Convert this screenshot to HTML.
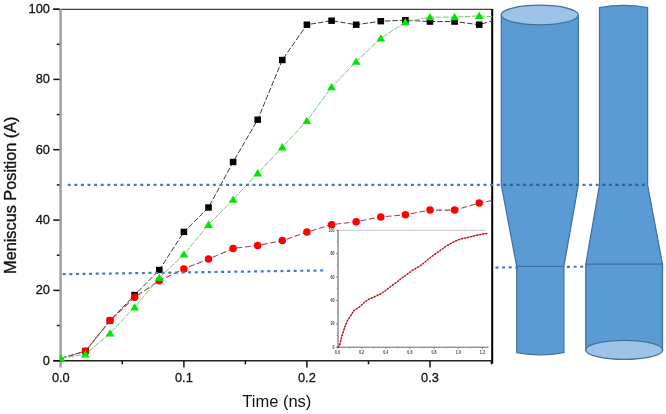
<!DOCTYPE html>
<html><head><meta charset="utf-8"><style>
html,body{margin:0;padding:0;background:#fff;}
body{width:666px;height:414px;overflow:hidden;}
svg{display:block;filter:blur(0.45px);}
</style></head><body>
<svg width="666" height="414" viewBox="0 0 666 414">
<rect width="666" height="414" fill="#fff"/>
<g stroke="#41719c" stroke-width="1.25" fill="#5b9bd5">
<path d="M501.3,15 L501.3,185 L516.7,266.3 L516.7,352.6 Q540.3,357 563.9,352.6 L563.9,266.3 L578.3,185 L578.3,15 Z"/>
<line x1="516.7" y1="266.3" x2="563.9" y2="266.3"/>
<ellipse cx="539.8" cy="15" rx="38.5" ry="9.8" fill="#9dc3e6"/>
<path d="M599.5,7.5 Q623.5,3.3 647.6,7.5 L647.6,185 L662.5,264.2 L662.5,349.9 L585.8,349.9 L585.8,264.2 L599.5,185 Z"/>
<line x1="585.8" y1="264.2" x2="662.5" y2="264.2"/>
<ellipse cx="624.2" cy="349.9" rx="38.4" ry="9.5" fill="#9dc3e6"/>
</g>
<g>
<line x1="53.3" y1="9.3" x2="492.2" y2="9.3" stroke="#444" stroke-width="1.3"/>
<line x1="492.2" y1="9" x2="492.2" y2="363.5" stroke="#000" stroke-width="2"/>
<line x1="60.6" y1="9.3" x2="60.6" y2="367.5" stroke="#a0a0a0" stroke-width="2.5"/>
<line x1="53.3" y1="360.8" x2="492.2" y2="360.8" stroke="#222" stroke-width="1.6"/>
<line x1="53.3" y1="360.7" x2="59.5" y2="360.7" stroke="#111" stroke-width="1.5"/>
<line x1="56.8" y1="325.5" x2="59.5" y2="325.5" stroke="#111" stroke-width="1.5"/>
<line x1="53.3" y1="290.4" x2="59.5" y2="290.4" stroke="#111" stroke-width="1.5"/>
<line x1="56.8" y1="255.2" x2="59.5" y2="255.2" stroke="#111" stroke-width="1.5"/>
<line x1="53.3" y1="220.1" x2="59.5" y2="220.1" stroke="#111" stroke-width="1.5"/>
<line x1="56.8" y1="184.9" x2="59.5" y2="184.9" stroke="#111" stroke-width="1.5"/>
<line x1="53.3" y1="149.7" x2="59.5" y2="149.7" stroke="#111" stroke-width="1.5"/>
<line x1="56.8" y1="114.6" x2="59.5" y2="114.6" stroke="#111" stroke-width="1.5"/>
<line x1="53.3" y1="79.4" x2="59.5" y2="79.4" stroke="#111" stroke-width="1.5"/>
<line x1="56.8" y1="44.3" x2="59.5" y2="44.3" stroke="#111" stroke-width="1.5"/>
<line x1="53.3" y1="9.1" x2="59.5" y2="9.1" stroke="#111" stroke-width="1.5"/>
<line x1="122.3" y1="361" x2="122.3" y2="364.3" stroke="#111" stroke-width="1.5"/>
<line x1="183.9" y1="361" x2="183.9" y2="367.5" stroke="#111" stroke-width="1.5"/>
<line x1="245.4" y1="361" x2="245.4" y2="364.3" stroke="#111" stroke-width="1.5"/>
<line x1="306.9" y1="361" x2="306.9" y2="367.5" stroke="#111" stroke-width="1.5"/>
<line x1="368.5" y1="361" x2="368.5" y2="364.3" stroke="#111" stroke-width="1.5"/>
<line x1="430.0" y1="361" x2="430.0" y2="367.5" stroke="#111" stroke-width="1.5"/>
<line x1="491.5" y1="361" x2="491.5" y2="364.3" stroke="#111" stroke-width="1.5"/>
</g>
<g font-family="Liberation Sans, sans-serif" font-size="13.5" fill="#111" stroke="#111" stroke-width="0.3" text-anchor="end">
<text transform="translate(50,364.6) scale(0.95,1)">0</text>
<text transform="translate(50,294.3) scale(0.95,1)">20</text>
<text transform="translate(50,224.0) scale(0.95,1)">40</text>
<text transform="translate(50,153.6) scale(0.95,1)">60</text>
<text transform="translate(50,83.3) scale(0.95,1)">80</text>
<text transform="translate(50,13.0) scale(0.95,1)">100</text>
</g>
<g font-family="Liberation Sans, sans-serif" font-size="13.5" fill="#111" stroke="#111" stroke-width="0.3" text-anchor="middle">
<text transform="translate(60.8,381.5) scale(0.95,1)">0.0</text>
<text transform="translate(183.9,381.5) scale(0.95,1)">0.1</text>
<text transform="translate(306.9,381.5) scale(0.95,1)">0.2</text>
<text transform="translate(430.0,381.5) scale(0.95,1)">0.3</text>
</g>
<text x="276.8" y="407.3" font-family="Liberation Sans, sans-serif" font-size="16.5" fill="#111" text-anchor="middle">Time (ns)</text>
<text transform="translate(16.1,195.2) rotate(-90)" font-family="Liberation Sans, sans-serif" font-size="16.3" fill="#111" stroke="#111" stroke-width="0.35" text-anchor="middle">Meniscus Position (A)</text>
<defs><clipPath id="pc"><rect x="61" y="9" width="431" height="352"/></clipPath></defs>
<g clip-path="url(#pc)" fill="none" stroke-width="1">
<polyline points="60.8,358.4 85.4,351.0 110.0,320.6 134.6,295.0 159.3,270.0 183.9,231.9 208.5,207.5 233.1,162.0 257.7,119.7 282.3,60.0 306.9,24.7 331.6,20.7 356.2,24.7 380.8,21.2 405.4,20.2 430.0,21.6 454.6,21.6 479.2,24.7 503.9,17.5" stroke="#3a3a3a" stroke-width="1.0" stroke-dasharray="5.5 2"/>
<polyline points="60.8,358.5 85.4,351.3 110.0,320.6 134.6,297.3 159.3,280.8 183.9,268.9 208.5,259.1 233.1,248.5 257.7,245.4 282.3,240.6 306.9,232.1 331.6,224.7 356.2,221.7 380.8,216.9 405.4,214.7 430.0,210.1 454.6,210.1 479.2,203.1 503.9,198.0" stroke="#a84050" stroke-width="1.05" stroke-dasharray="6 2.5"/>
<polyline points="60.8,358.4 85.4,354.2 110.0,333.3 134.6,307.3 159.3,277.8 183.9,254.4 208.5,224.7 233.1,199.6 257.7,173.2 282.3,147.2 306.9,120.9 331.6,87.1 356.2,61.6 380.8,38.3 405.4,22.0 430.0,17.1 454.6,17.1 479.2,15.9 503.9,17.5" stroke="#74cc74" stroke-width="1.0" stroke-dasharray="6 1.3"/>
</g>
<clipPath id="mc"><rect x="59.8" y="0" width="440" height="414"/></clipPath>
<g clip-path="url(#mc)">
<rect x="82.1" y="347.8" width="6.6" height="6.4" fill="#000"/>
<rect x="106.7" y="317.4" width="6.6" height="6.4" fill="#000"/>
<rect x="131.3" y="291.8" width="6.6" height="6.4" fill="#000"/>
<rect x="156.0" y="266.8" width="6.6" height="6.4" fill="#000"/>
<rect x="180.6" y="228.7" width="6.6" height="6.4" fill="#000"/>
<rect x="205.2" y="204.3" width="6.6" height="6.4" fill="#000"/>
<rect x="229.8" y="158.8" width="6.6" height="6.4" fill="#000"/>
<rect x="254.4" y="116.5" width="6.6" height="6.4" fill="#000"/>
<rect x="279.0" y="56.8" width="6.6" height="6.4" fill="#000"/>
<rect x="303.6" y="21.5" width="6.6" height="6.4" fill="#000"/>
<rect x="328.3" y="17.5" width="6.6" height="6.4" fill="#000"/>
<rect x="352.9" y="21.5" width="6.6" height="6.4" fill="#000"/>
<rect x="377.5" y="18.0" width="6.6" height="6.4" fill="#000"/>
<rect x="402.1" y="17.0" width="6.6" height="6.4" fill="#000"/>
<rect x="426.7" y="18.4" width="6.6" height="6.4" fill="#000"/>
<rect x="451.3" y="18.4" width="6.6" height="6.4" fill="#000"/>
<rect x="475.9" y="21.5" width="6.6" height="6.4" fill="#000"/>
<circle cx="85.4" cy="351.3" r="3.75" fill="#f00"/>
<circle cx="110.0" cy="320.6" r="3.75" fill="#f00"/>
<circle cx="134.6" cy="297.3" r="3.75" fill="#f00"/>
<circle cx="159.3" cy="280.8" r="3.75" fill="#f00"/>
<circle cx="183.9" cy="268.9" r="3.75" fill="#f00"/>
<circle cx="208.5" cy="259.1" r="3.75" fill="#f00"/>
<circle cx="233.1" cy="248.5" r="3.75" fill="#f00"/>
<circle cx="257.7" cy="245.4" r="3.75" fill="#f00"/>
<circle cx="282.3" cy="240.6" r="3.75" fill="#f00"/>
<circle cx="306.9" cy="232.1" r="3.75" fill="#f00"/>
<circle cx="331.6" cy="224.7" r="3.75" fill="#f00"/>
<circle cx="356.2" cy="221.7" r="3.75" fill="#f00"/>
<circle cx="380.8" cy="216.9" r="3.75" fill="#f00"/>
<circle cx="405.4" cy="214.7" r="3.75" fill="#f00"/>
<circle cx="430.0" cy="210.1" r="3.75" fill="#f00"/>
<circle cx="454.6" cy="210.1" r="3.75" fill="#f00"/>
<circle cx="479.2" cy="203.1" r="3.75" fill="#f00"/>
<path d="M60.8,354.3 L65.2,361.6 L56.4,361.6 Z" fill="#00e600"/>
<path d="M85.4,350.1 L89.8,357.4 L81.0,357.4 Z" fill="#00e600"/>
<path d="M110.0,329.2 L114.4,336.5 L105.6,336.5 Z" fill="#00e600"/>
<path d="M134.6,303.2 L139.0,310.5 L130.2,310.5 Z" fill="#00e600"/>
<path d="M159.3,273.7 L163.7,281.0 L154.9,281.0 Z" fill="#00e600"/>
<path d="M183.9,250.3 L188.3,257.6 L179.5,257.6 Z" fill="#00e600"/>
<path d="M208.5,220.6 L212.9,227.9 L204.1,227.9 Z" fill="#00e600"/>
<path d="M233.1,195.5 L237.5,202.8 L228.7,202.8 Z" fill="#00e600"/>
<path d="M257.7,169.1 L262.1,176.4 L253.3,176.4 Z" fill="#00e600"/>
<path d="M282.3,143.1 L286.7,150.4 L277.9,150.4 Z" fill="#00e600"/>
<path d="M306.9,116.8 L311.3,124.1 L302.5,124.1 Z" fill="#00e600"/>
<path d="M331.6,83.0 L336.0,90.3 L327.2,90.3 Z" fill="#00e600"/>
<path d="M356.2,57.5 L360.6,64.8 L351.8,64.8 Z" fill="#00e600"/>
<path d="M380.8,34.2 L385.2,41.5 L376.4,41.5 Z" fill="#00e600"/>
<path d="M405.4,17.9 L409.8,25.2 L401.0,25.2 Z" fill="#00e600"/>
<path d="M430.0,13.0 L434.4,20.3 L425.6,20.3 Z" fill="#00e600"/>
<path d="M454.6,13.0 L459.0,20.3 L450.2,20.3 Z" fill="#00e600"/>
<path d="M479.2,11.8 L483.6,19.1 L474.8,19.1 Z" fill="#00e600"/>
</g>
<rect x="326" y="228" width="165" height="130" fill="#fff"/>
<line x1="338" y1="230.4" x2="486" y2="230.4" stroke="#cfcfd4" stroke-width="1.2"/>
<line x1="338" y1="230" x2="338" y2="347.5" stroke="#555" stroke-width="1"/>
<line x1="337.5" y1="347.2" x2="488.5" y2="347.2" stroke="#666" stroke-width="1"/>
<g stroke="#777" stroke-width="0.8">
<line x1="336" y1="347.2" x2="338" y2="347.2"/>
<line x1="336.8" y1="335.5" x2="338" y2="335.5"/>
<line x1="336" y1="323.8" x2="338" y2="323.8"/>
<line x1="336.8" y1="312.1" x2="338" y2="312.1"/>
<line x1="336" y1="300.4" x2="338" y2="300.4"/>
<line x1="336.8" y1="288.7" x2="338" y2="288.7"/>
<line x1="336" y1="277.0" x2="338" y2="277.0"/>
<line x1="336.8" y1="265.3" x2="338" y2="265.3"/>
<line x1="336" y1="253.6" x2="338" y2="253.6"/>
<line x1="336.8" y1="241.9" x2="338" y2="241.9"/>
<line x1="336" y1="230.2" x2="338" y2="230.2"/>
<line x1="337.4" y1="347.2" x2="337.4" y2="349.2"/>
<line x1="349.5" y1="347.2" x2="349.5" y2="348.4"/>
<line x1="361.6" y1="347.2" x2="361.6" y2="349.2"/>
<line x1="373.6" y1="347.2" x2="373.6" y2="348.4"/>
<line x1="385.7" y1="347.2" x2="385.7" y2="349.2"/>
<line x1="397.8" y1="347.2" x2="397.8" y2="348.4"/>
<line x1="409.9" y1="347.2" x2="409.9" y2="349.2"/>
<line x1="422.0" y1="347.2" x2="422.0" y2="348.4"/>
<line x1="434.0" y1="347.2" x2="434.0" y2="349.2"/>
<line x1="446.1" y1="347.2" x2="446.1" y2="348.4"/>
<line x1="458.2" y1="347.2" x2="458.2" y2="349.2"/>
<line x1="470.3" y1="347.2" x2="470.3" y2="348.4"/>
<line x1="482.4" y1="347.2" x2="482.4" y2="349.2"/>
</g>
<g font-family="Liberation Sans, sans-serif" font-size="4.6" font-weight="bold" fill="#444" text-anchor="end">
<text transform="translate(334.6,348.8) scale(0.8,1)">0</text>
<text transform="translate(334.6,325.4) scale(0.8,1)">20</text>
<text transform="translate(334.6,302.0) scale(0.8,1)">40</text>
<text transform="translate(334.6,278.6) scale(0.8,1)">60</text>
<text transform="translate(334.6,255.2) scale(0.8,1)">80</text>
<text transform="translate(334.6,231.8) scale(0.8,1)">100</text>
</g>
<g font-family="Liberation Sans, sans-serif" font-size="4.6" font-weight="bold" fill="#444" text-anchor="middle">
<text transform="translate(337.4,354.2) scale(0.8,1)">0.0</text>
<text transform="translate(361.6,354.2) scale(0.8,1)">0.2</text>
<text transform="translate(385.7,354.2) scale(0.8,1)">0.4</text>
<text transform="translate(409.9,354.2) scale(0.8,1)">0.6</text>
<text transform="translate(434.1,354.2) scale(0.8,1)">0.8</text>
<text transform="translate(458.2,354.2) scale(0.8,1)">1.0</text>
<text transform="translate(482.4,354.2) scale(0.8,1)">1.2</text>
</g>
<polyline points="338.5,347 339.9,344.1 342.4,334.3 345,326.4 347.5,320.5 350,316.7 352.3,313 354.6,310 357.2,308.3 359.7,306.9 362.2,304.4 365,301.6 370,298.6 375,296.5 380.2,294.2 385.3,290.7 388.7,288 392.1,285.3 396.3,282.6 401,278.6 404.5,276.2 407.7,273.8 411,271.4 414.5,269 418,267 421.2,265.1 424.2,262.6 427,260.3 429.5,258.3 431.9,256.4 435.2,254 438.6,251.6 441.5,249.6 445,246.8 449.5,244.3 452.5,242.6 456.3,240.6 460,239.2 463.5,238.3 467.5,237.6 471,236.6 475,235.6 479.5,234.7 484,233.8 487.5,233.5" fill="none" stroke="#d83848" stroke-width="1.0"/>
<polyline points="338.5,347 339.9,344.1 342.4,334.3 345,326.4 347.5,320.5 350,316.7 352.3,313 354.6,310 357.2,308.3 359.7,306.9 362.2,304.4 365,301.6 370,298.6 375,296.5 380.2,294.2 385.3,290.7 388.7,288 392.1,285.3 396.3,282.6 401,278.6 404.5,276.2 407.7,273.8 411,271.4 414.5,269 418,267 421.2,265.1 424.2,262.6 427,260.3 429.5,258.3 431.9,256.4 435.2,254 438.6,251.6 441.5,249.6 445,246.8 449.5,244.3 452.5,242.6 456.3,240.6 460,239.2 463.5,238.3 467.5,237.6 471,236.6 475,235.6 479.5,234.7 484,233.8 487.5,233.5" fill="none" stroke="#b01020" stroke-width="1.7" stroke-linecap="round" stroke-dasharray="0 3.1"/>
<line x1="67.7" y1="184.9" x2="646" y2="184.9" stroke="#4878c4" stroke-width="2.2" stroke-dasharray="3 3.6"/>
<clipPath id="cyl"><rect x="501.3" y="180" width="77" height="10"/><rect x="599.5" y="180" width="48.1" height="10"/></clipPath>
<line x1="67.7" y1="184.9" x2="646" y2="184.9" stroke="#2f60a8" stroke-width="2.2" stroke-dasharray="3 3.6" clip-path="url(#cyl)"/>
<line x1="62.7" y1="274.2" x2="326" y2="270.4" stroke="#4878c4" stroke-width="2.2" stroke-dasharray="3 3.6"/>
<line x1="495.5" y1="267.6" x2="516" y2="267.3" stroke="#4878c4" stroke-width="2.2" stroke-dasharray="3 3.6"/>
<line x1="567" y1="266.8" x2="585" y2="266.7" stroke="#4878c4" stroke-width="2.2" stroke-dasharray="3 3.6"/>
</svg>
</body></html>
